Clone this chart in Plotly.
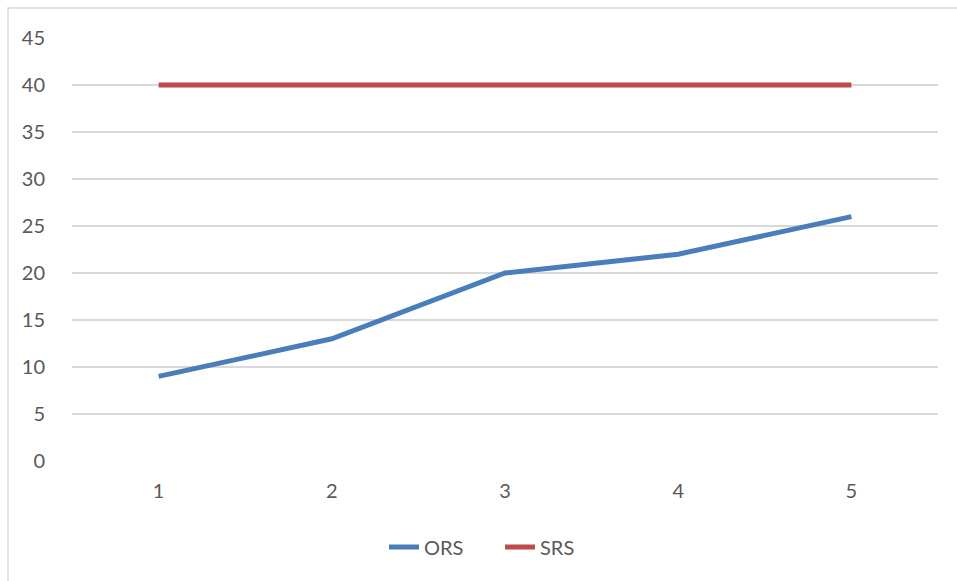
import plotly.graph_objects as go

# Series data
categories = [1, 2, 3, 4, 5]
ors_values = [9, 13, 20, 22, 26]
srs_values = [40, 40, 40, 40, 40]
y_ticks = [0, 5, 10, 15, 20, 25, 30, 35, 40, 45]

W, H = 957, 581
ML, MR, MT, MB = 72, 19, 38, 120
pw, ph = W - ML - MR, H - MT - MB

def px_x(p):
    return (p - ML) / pw

def px_y(p):
    return (H - MB - p) / ph

fig = go.Figure()
fig.add_trace(go.Scatter(x=categories, y=ors_values, mode="lines", name="ORS",
                         line=dict(color="#4a7ebb", width=5)))
fig.add_trace(go.Scatter(x=categories, y=srs_values, mode="lines", name="SRS",
                         line=dict(color="#be4b48", width=5)))

font = dict(family="Lato, Open Sans, sans-serif", size=20, color="#595959")

fig.update_layout(
    width=W, height=H,
    margin=dict(l=ML, r=MR, t=MT, b=MB),
    paper_bgcolor="white", plot_bgcolor="white",
    font=font,
    showlegend=True,
    legend=dict(orientation="h", x=px_x(500), xanchor="center",
                y=px_y(547), yanchor="middle", font=font,
                entrywidth=71, entrywidthmode="pixels",
                bgcolor="rgba(0,0,0,0)"),
    xaxis=dict(range=[0.5, 5.5], tickvals=categories,
               ticktext=[str(c) for c in categories],
               showgrid=False, zeroline=False, showline=False,
               ticks="outside", ticklen=12, tickcolor="rgba(0,0,0,0)",
               tickfont=font, fixedrange=True),
    yaxis=dict(range=[0, 45], tickvals=y_ticks,
               showgrid=True, gridcolor="#d9d9d9", gridwidth=1.5,
               zeroline=False, showline=False,
               ticks="outside", ticklen=22, tickcolor="rgba(0,0,0,0)",
               tickfont=font, fixedrange=True),
    shapes=[dict(type="rect", xref="paper", yref="paper",
                 x0=px_x(8), x1=px_x(1000), y0=px_y(640), y1=px_y(8),
                 line=dict(color="#d9d9d9", width=1.5), layer="below")],
)

fig.write_html("out.html")
